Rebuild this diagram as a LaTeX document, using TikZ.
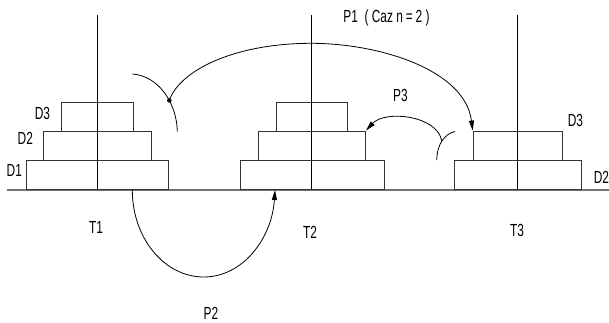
\documentclass[tikz,border=0pt]{standalone}
\usepackage{fontspec}
\setmainfont{Liberation Sans}[FakeStretch=0.68]
\usetikzlibrary{arrows.meta}
\begin{document}
\begin{tikzpicture}[x=1pt,y=-1pt,
  disk/.style={draw=black!80, line width=0.9pt, rectangle, inner sep=0pt, anchor=south west},
  pole/.style={draw=black, line width=0.9pt},
  ground/.style={draw=black!55, line width=1.6pt},
  lbl/.style={inner sep=0pt, anchor=base, font=\fontsize{17.5}{20}\selectfont},
  curve/.style={line width=0.8pt},
  arr/.style={curve, -{Triangle[length=10pt,width=5pt]}}]
\useasboundingbox (0,0) rectangle (609,323);

% ground
\coordinate (g0) at (7,190);
\coordinate (g1) at (609,190);
\draw[ground] (g0) -- (g1);

% poles
\coordinate (p1t) at (97,15);    \coordinate (p1b) at (97,190);
\coordinate (p2t) at (311.5,15); \coordinate (p2b) at (311.5,190);
\coordinate (p3t) at (517.3,15); \coordinate (p3b) at (517.3,190);
\draw[pole] (p1t) -- (p1b);
\draw[pole] (p2t) -- (p2b);
\draw[pole] (p3t) -- (p3b);

% disks tower 1
\node[disk, minimum width=142pt, minimum height=29.5pt] (t1a) at (26,190) {};
\node[disk, minimum width=108pt, minimum height=29pt] (t1b) at (43,160.5) {};
\node[disk, minimum width=72pt, minimum height=29pt] (t1c) at (61,131.5) {};
% disks tower 2
\node[disk, minimum width=143.5pt, minimum height=29.5pt] (t2a) at (240,190) {};
\node[disk, minimum width=107.3pt, minimum height=29pt] (t2b) at (257.7,160.5) {};
\node[disk, minimum width=71.6pt, minimum height=29pt] (t2c) at (275.7,131.5) {};
% disks tower 3
\node[disk, minimum width=126.2pt, minimum height=29.5pt] (t3a) at (454.3,190) {};
\node[disk, minimum width=89.6pt, minimum height=29pt] (t3b) at (472.7,160.5) {};

% labels
\node[lbl] (l13) at (42.5,119.3) {D3};
\node[lbl] (l12) at (25.3,145) {D2};
\node[lbl] (l11) at (14.3,176.7) {D1};
\node[lbl] (l33) at (575.5,126.7) {D3};
\node[lbl] (l32) at (601.5,183.3) {D2};
\node[lbl] (T1) at (96,233.3) {T1};
\node[lbl] (T2) at (310,238) {T2};
\node[lbl] (T3) at (517,236.5) {T3};
\node[lbl] (P1) at (386.5,22.7) {P1 \ ( Caz n\,=\,2 )};
\node[lbl] (P2) at (211,319.3) {P2};
\node[lbl] (P3) at (400.5,101.7) {P3};

% P2 move
\coordinate (s2) at (132.3,190);
\coordinate (e2) at (275,190);
\draw[arr] (s2) .. controls (132.3,238) and (164.3,277) .. (203.7,277)
  .. controls (243.1,277) and (272,238) .. (e2);

% P1 move
\coordinate (h1a) at (132.3,74);
\coordinate (h1b) at (177.3,131.7);
\draw[curve] (h1a) .. controls (160,76) and (177,105) .. (h1b) coordinate[pos=0.6] (dot);
\node[circle, fill, inner sep=0pt, minimum size=4.5pt] (dotn) at (dot) {};
\draw[arr] (dotn.center) .. controls (180,70) and (235,43.3) .. (311.7,43.3)
  .. controls (380,43.5) and (465,70) .. (t3b.north west);

% P3 move
\coordinate (h3a) at (455,131.5);
\coordinate (h3b) at (436.7,160);
\draw[curve] (h3a) .. controls (444,134) and (437,145) .. (h3b) coordinate[pos=0.5] (p3s);
\draw[arr] (p3s) .. controls (437,115) and (385,110) .. (t2b.north east);
\end{tikzpicture}
\end{document}
